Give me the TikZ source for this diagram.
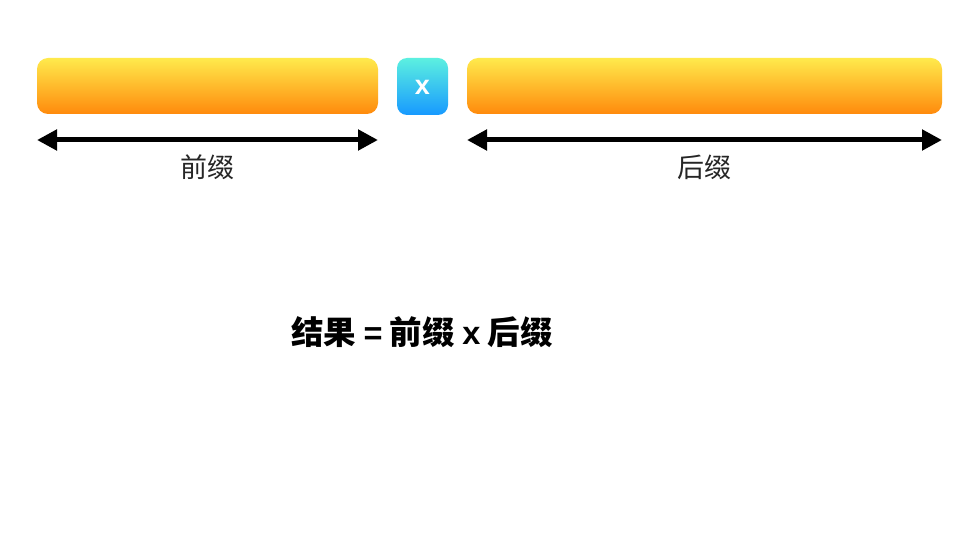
\documentclass[tikz,border=0pt]{standalone}
\usepackage{fontspec}
\newfontfamily\cjk{Noto Sans CJK SC}
\newfontfamily\lat{Liberation Sans}
\usetikzlibrary{arrows.meta}
\definecolor{bartop}{HTML}{FFEA4C}
\definecolor{barbot}{HTML}{FF8A0C}
\definecolor{boxtop}{HTML}{5CF0E0}
\definecolor{boxbot}{HTML}{1799FF}
\tikzset{
  bar/.style={rounded corners=11pt, top color=bartop, bottom color=barbot, draw=none},
  xbox/.style={rounded corners=10pt, top color=boxtop, bottom color=boxbot, draw=none},
  span/.style={line width=5pt, {Triangle[length=20pt,width=20pt]}-{Triangle[length=20pt,width=20pt]}},
  lbl/.style={font=\cjk\fontsize{27pt}{29pt}\selectfont, text=black!85},
}
\begin{document}
\begin{tikzpicture}[x=1pt,y=-1pt]
\path[use as bounding box, fill=white] (0,0) rectangle (968,545);
\path[bar] (37,58) rectangle (378,114);
\path[xbox] (397,58) rectangle (448,115);
\node[text=white, font=\lat\bfseries\fontsize{27pt}{29pt}\selectfont] (x) at (422.5,87) {x};
\path[bar] (467,58) rectangle (942,114);
\coordinate (a1) at (37,140);
\coordinate (a2) at (378,140);
\coordinate (b1) at (467,140);
\coordinate (b2) at (942,140);
\draw[span] (a1) -- (a2);
\draw[span] (b1) -- (b2);
\node[lbl] (p) at (207.5,167) {前缀};
\node[lbl] (s) at (704.5,167) {后缀};
\node[font=\cjk\bfseries\fontsize{32.5pt}{34pt}\selectfont] (r) at (422,332) {结果 {\lat\bfseries =} 前缀 {\lat\bfseries x} 后缀};
\end{tikzpicture}
\end{document}
